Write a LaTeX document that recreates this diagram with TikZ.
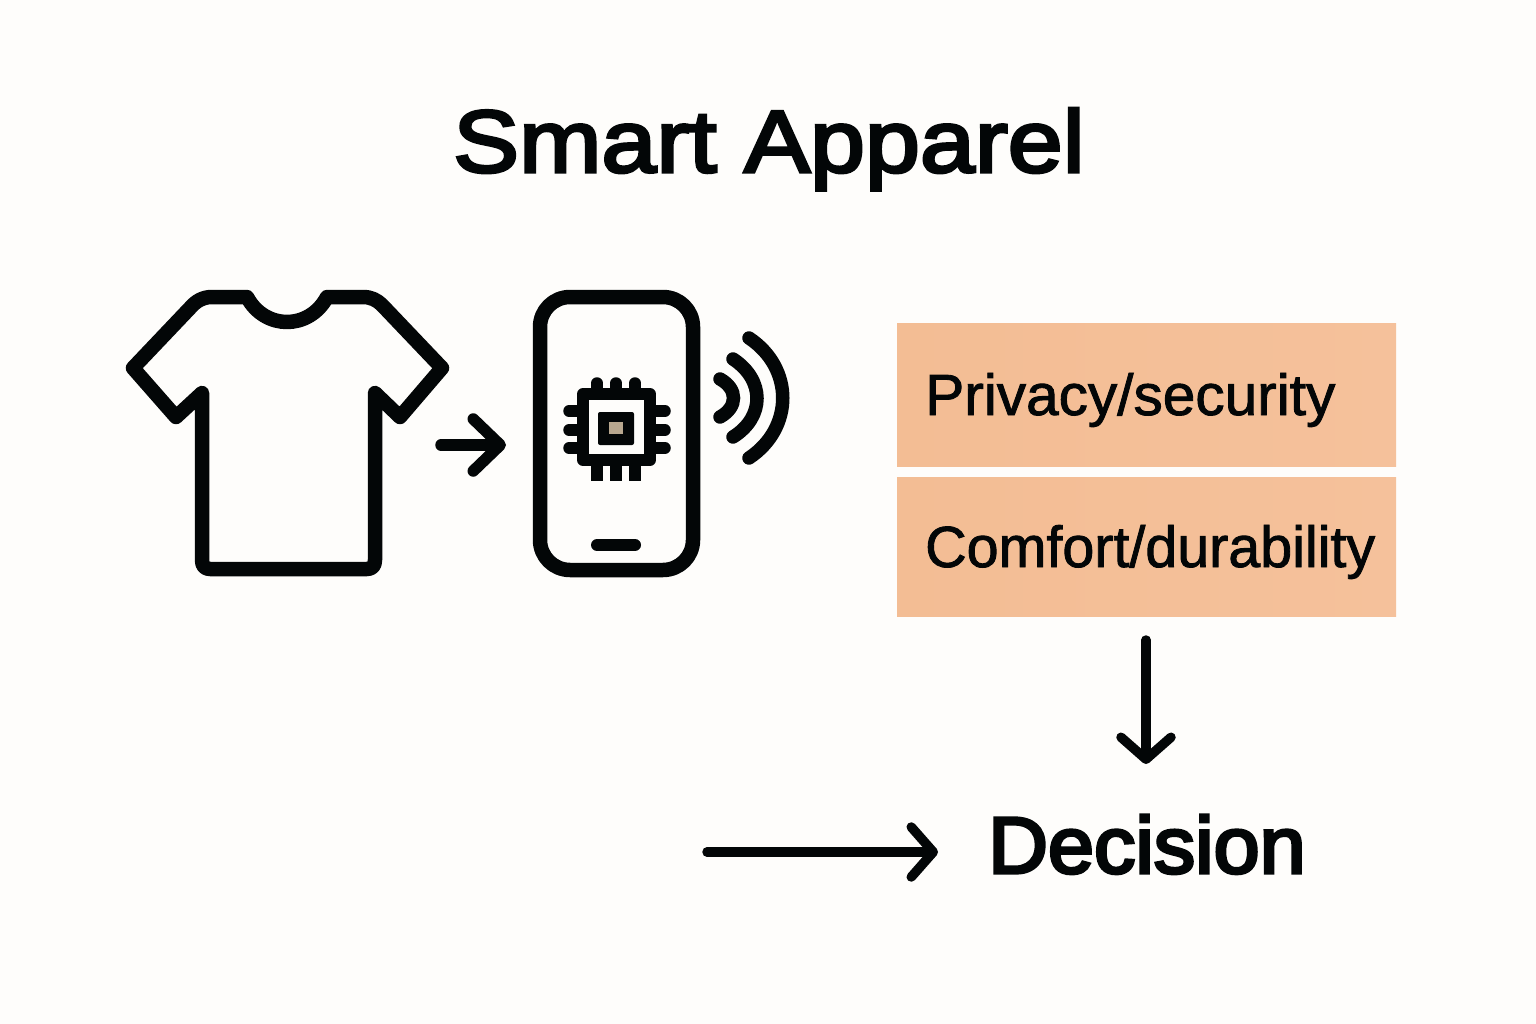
\documentclass[tikz,border=0pt]{standalone}
\usepackage{fontspec}
\setmainfont{Liberation Sans}
\newfontfamily\titlefont[FakeBold=3.6,FakeStretch=1.123]{Liberation Sans}
\newfontfamily\decisionfont[FakeBold=4,FakeStretch=1.035]{Liberation Sans}
\newfontfamily\privacyfont[FakeBold=1.5,FakeStretch=1.01]{Liberation Sans}
\newfontfamily\comfortfont[FakeBold=1.5,FakeStretch=0.99]{Liberation Sans}
\usetikzlibrary{arrows.meta}
\definecolor{ink}{HTML}{030607}
\definecolor{paper}{HTML}{FEFDFB}
\definecolor{peach}{HTML}{F5C19B}
\definecolor{peachd}{HTML}{F3BD94}
\definecolor{chipcore}{HTML}{B8A78F}
\tikzset{
  icon/.style={draw=ink,line width=14.5pt,line join=round,line cap=round},
  pin/.style={draw=ink,line width=11.5pt,line cap=round},
  pinb/.style={draw=ink,line width=11.5pt},
  wave/.style={draw=ink,line width=13.5pt,line cap=round},
  box/.style={draw=none,left color=peachd,right color=peach,minimum width=499pt,anchor=north west,inner sep=0pt},
  label/.style={anchor=base west,inner sep=0pt,text=ink},
  bigarrow/.style={draw=ink,line width=9.5pt,line cap=round,-{Straight Barb[round,length=22pt,width=50pt,line width=9.5pt]}},
  smallarrow/.style={draw=ink,line width=11.5pt,line cap=round,-{Straight Barb[round,length=27pt,width=52pt,line width=11.5pt]}},
}
\begin{document}
\begin{tikzpicture}[x=1pt,y=-1pt]
\useasboundingbox (0,0) rectangle (1536,1024);
\fill[paper] (0,0) rectangle (1536,1024);

\node[label,font=\titlefont\fontsize{88}{88}\selectfont] (title) at (453,172) {Smart Apparel};

% shirt
\draw[icon] (247,297) .. controls (256,314) and (272,322) .. (287,322)
  .. controls (302,322) and (318,314) .. (327,297)
  -- (363,297) .. controls (371,297) and (377,300) .. (382,305)
  -- (442,368) -- (400,417) -- (375,393) -- (375,560)
  .. controls (375,566) and (372,569) .. (367,569) -- (210,569)
  .. controls (205,569) and (202,566) .. (202,560) -- (202,393)
  -- (176,417) -- (133,368) -- (190,308)
  .. controls (196,301) and (203,297) .. (212,297) -- cycle;

% phone
\draw[icon,rounded corners=30pt] (540,297) rectangle (693,570);
\draw[draw=ink,line width=12pt,line cap=round] (597,545) -- (635,545);

% chip
\draw[draw=ink,line width=12pt,line join=round] (583,394) rectangle (650,460);
\fill[ink,rounded corners=2pt] (598,412) rectangle (634,445);
\fill[chipcore] (609,422) rectangle (623,434);
\foreach \px in {597,616,635}{
  \draw[pin] (\px,383) -- (\px,392);
  \draw[pinb] (\px,462) -- (\px,481);
}
\foreach \py in {411,430,448}{
  \draw[pin] (569,\py) -- (580,\py);
  \draw[pin] (653,\py) -- (665,\py);
}

% waves
\draw[wave] (720,379) .. controls (738,389) and (738,407) .. (720,417);
\draw[wave] (733,359) .. controls (765,380) and (765,417) .. (733,437);
\draw[wave] (749,338) .. controls (794,368) and (794,428) .. (749,458);

% boxes
\node[box,minimum height=143pt] (privacy) at (897,323) {};
\node[box,minimum height=139pt] (comfort) at (897,477) {};
\node[label,font=\privacyfont\fontsize{58}{58}\selectfont] (privacytext) at (925,415) {Privacy/security};
\node[label,font=\comfortfont\fontsize{58}{58}\selectfont] (comforttext) at (925,567) {Comfort/durability};

\node[label,font=\decisionfont\fontsize{80}{80}\selectfont] (decision) at (988,873) {Decision};

% connectors
\coordinate (shirtout) at (441,445);
\coordinate (phonein) at (506,445);
\draw[smallarrow] (shirtout) -- (phonein);
\coordinate (boxout) at (1146,640);
\coordinate (decisionin) at (1146,764);
\draw[bigarrow] (boxout) -- (decisionin);
\coordinate (leftfree) at (707,852);
\coordinate (decisionleft) at (938,852);
\draw[bigarrow] (leftfree) -- (decisionleft);
\end{tikzpicture}
\end{document}
